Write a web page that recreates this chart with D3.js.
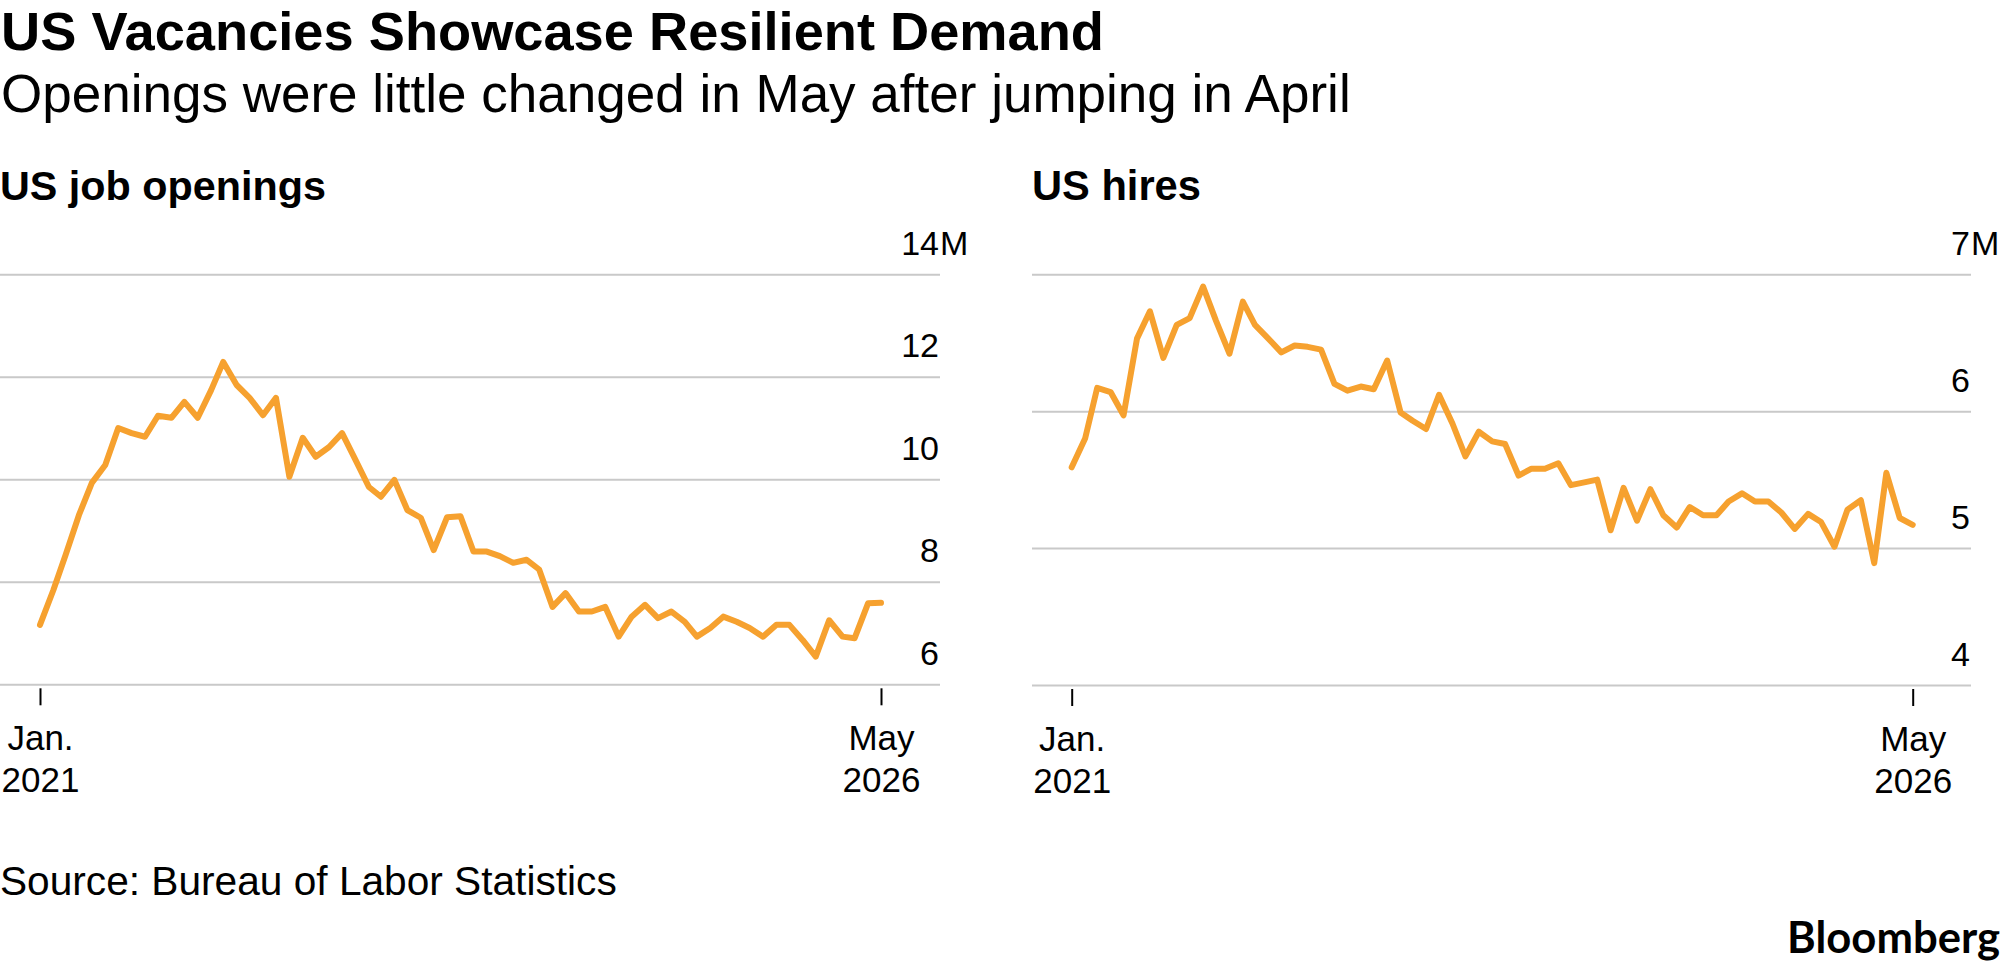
<!DOCTYPE html>
<html>
<head>
<meta charset="utf-8">
<script src="https://cdn.jsdelivr.net/npm/d3@7"></script>
<style>
body { margin: 0; background: #fff; }
text { font-family: "Liberation Sans", Arial, sans-serif; fill: #000; }
</style>
</head>
<body>
<svg id="chart" width="2003" height="966"></svg>
<script>
// monthly, Jan 2021 .. May 2026 (millions)
var firstMonth = new Date(Date.UTC(2021, 0, 1));
var lastMonth = new Date(Date.UTC(2026, 4, 1));

var openings = [
    7.16, 7.84, 8.52, 9.30, 9.93, 10.28, 11.00, 10.90, 10.83, 11.24,
    11.20, 11.51, 11.20, 11.74, 12.29, 11.84, 11.59, 11.25, 11.59, 10.05,
    10.81, 10.44, 10.63, 10.90, 10.38, 9.85, 9.66, 9.99, 9.40, 9.25,
    8.62, 9.26, 9.28, 8.59, 8.59, 8.50, 8.37, 8.43, 8.24, 7.51,
    7.78, 7.42, 7.42, 7.51, 6.93, 7.32, 7.55, 7.29, 7.42, 7.22,
    6.93, 7.10, 7.32, 7.22, 7.10, 6.93, 7.16, 7.16, 6.86, 6.54,
    7.25, 6.93, 6.90, 7.58, 7.59
];

var hires = [
    5.59, 5.80, 6.17, 6.14, 5.97, 6.53, 6.73, 6.39, 6.63, 6.68,
    6.91, 6.66, 6.42, 6.80, 6.63, 6.53, 6.43, 6.48, 6.47, 6.45,
    6.20, 6.15, 6.18, 6.16, 6.37, 5.99, 5.93, 5.87, 6.12, 5.91,
    5.67, 5.85, 5.78, 5.76, 5.53, 5.58, 5.58, 5.62, 5.46, 5.48,
    5.50, 5.13, 5.44, 5.20, 5.43, 5.24, 5.15, 5.30, 5.24, 5.24,
    5.34, 5.40, 5.34, 5.34, 5.26, 5.14, 5.25, 5.19, 5.01, 5.28,
    5.35, 4.89, 5.55, 5.22, 5.17
];

var openingsTicks = [6, 8, 10, 12, 14];
var hiresTicks = [4, 5, 6, 7];
var xTickLabels = [["Jan.", "2021"], ["May", "2026"]];

var titleText = "US Vacancies Showcase Resilient Demand";
var subtitleText = "Openings were little changed in May after jumping in April";
var sourceText = "Source: Bureau of Labor Statistics";

var svg = d3.select("#chart");
var lineColor = "#f6a12f";
var gridColor = "#c9c9c9";

function fit(sel, w) {
    var l = sel.node().getComputedTextLength();
    var fs = parseFloat(sel.attr("font-size"));
    sel.attr("font-size", fs * w / l);
}

function panel(values, ticks, opts) {
    var months = d3.utcMonth.range(firstMonth, d3.utcMonth.offset(lastMonth, 1));
    var data = values.map(function(v, i) { return [months[i], v]; });

    var x = d3.scaleUtc()
        .domain([firstMonth, lastMonth])
        .range(opts.xRange);

    var y = d3.scaleLinear()
        .domain(d3.extent(ticks))
        .range(opts.yRange);

    var g = svg.append("g");

    // heading
    var h = g.append("text")
        .attr("x", opts.gridX0)
        .attr("y", 200)
        .attr("font-size", 36)
        .attr("font-weight", "bold")
        .text(opts.title);
    fit(h, opts.titleWidth);

    // gridlines + value labels
    var yAxis = d3.axisLeft(y)
        .tickValues(ticks)
        .tickSize(opts.gridX1 - opts.gridX0)
        .tickFormat(d3.format("d"));

    var ya = g.append("g")
        .attr("transform", "translate(" + opts.gridX1 + ",0)")
        .call(yAxis)
        .attr("font-size", 34);
    ya.select(".domain").remove();
    ya.selectAll(".tick line")
        .attr("stroke", gridColor)
        .attr("stroke-width", 2);
    ya.selectAll(".tick text")
        .attr("x", -1)
        .attr("y", -20)
        .attr("dy", null)
        .attr("text-anchor", "end")
        .attr("fill", "#000");
    ya.selectAll(".tick")
        .filter(function(d) { return d === d3.max(ticks); })
        .append("text")
        .attr("x", 0)
        .attr("y", -20)
        .attr("text-anchor", "start")
        .attr("fill", "#000")
        .text("M");

    // date ticks
    var xAxis = d3.axisBottom(x)
        .tickValues([firstMonth, lastMonth])
        .tickSize(17);

    var xa = g.append("g")
        .attr("transform", "translate(0," + (opts.yRange[0] + 4) + ")")
        .call(xAxis)
        .attr("font-size", 35);
    xa.select(".domain").remove();
    xa.selectAll(".tick line")
        .attr("stroke", "#000")
        .attr("stroke-width", 2);
    xa.selectAll(".tick text")
        .attr("y", null)
        .attr("dy", null)
        .attr("fill", "#000")
        .text(null)
        .each(function(d, i) {
            var t = d3.select(this);
            t.append("tspan").attr("x", 0).attr("y", 62).text(xTickLabels[i][0]);
            t.append("tspan").attr("x", 0).attr("y", 104).text(xTickLabels[i][1]);
        });

    // series
    var line = d3.line()
        .x(function(d) { return x(d[0]); })
        .y(function(d) { return y(d[1]); });

    g.append("path")
        .datum(data)
        .attr("fill", "none")
        .attr("stroke", lineColor)
        .attr("stroke-width", 6)
        .attr("stroke-linejoin", "round")
        .attr("stroke-linecap", "round")
        .attr("d", line);
}

var title = svg.append("text")
    .attr("x", 1).attr("y", 50)
    .attr("font-size", 51)
    .attr("font-weight", "bold")
    .text(titleText);
fit(title, 1103);

var subtitle = svg.append("text")
    .attr("x", 1).attr("y", 112)
    .attr("font-size", 48)
    .text(subtitleText);
fit(subtitle, 1350);

panel(openings, openingsTicks, {
    title: "US job openings", titleWidth: 326,
    gridX0: 0, gridX1: 940,
    xRange: [40, 881],
    yRange: [684.3, 274.3]
});

panel(hires, hiresTicks, {
    title: "US hires", titleWidth: 169,
    gridX0: 1032, gridX1: 1971,
    xRange: [1071.7, 1912.7],
    yRange: [685, 274.3]
});

var source = svg.append("text")
    .attr("x", 0).attr("y", 895)
    .attr("font-size", 35)
    .text(sourceText);
fit(source, 617);

var logo = svg.append("text")
    .attr("x", 2000).attr("y", 953)
    .attr("text-anchor", "end")
    .attr("font-size", 33)
    .attr("font-weight", "bold")
    .style("font-family", "Lato, 'Noto Sans', sans-serif")
    .text("Bloomberg");
fit(logo, 213);
</script>
</body>
</html>
